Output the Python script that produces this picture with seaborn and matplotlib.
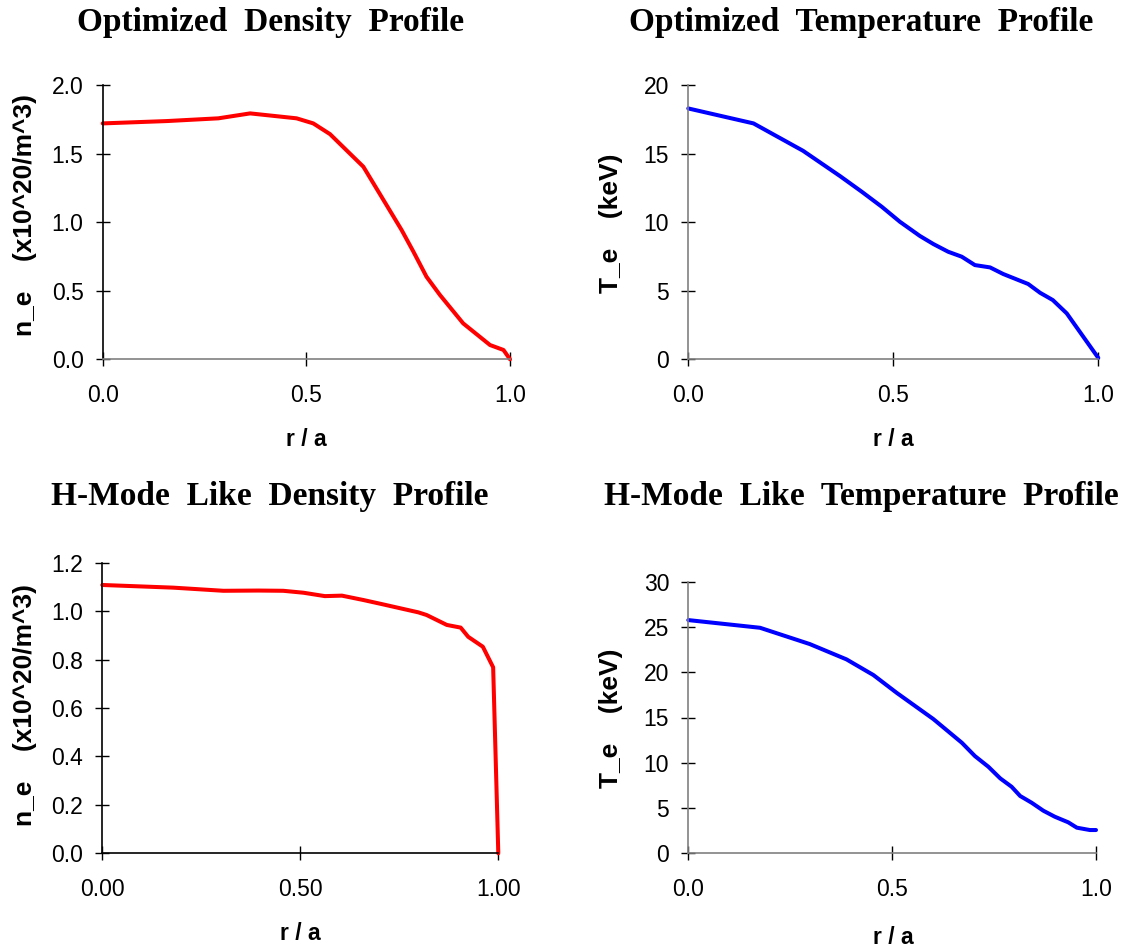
import matplotlib
matplotlib.use("Agg")
import matplotlib.pyplot as plt
import seaborn as sns
import pandas as pd
from matplotlib.ticker import FormatStrFormatter

sns.set_style("ticks")
plt.rcParams['font.family'] = ['Liberation Sans', 'DejaVu Sans']
plt.rcParams['text.color'] = 'black'

# Optimized density profile
r_opt_n = [0.0, 0.157, 0.284, 0.362, 0.476, 0.517, 0.558, 0.640, 0.734, 0.763, 0.795,
           0.828, 0.885, 0.951, 0.984, 1.0]
n_opt = [1.72, 1.737, 1.757, 1.793, 1.757, 1.72, 1.642, 1.404, 0.942, 0.784, 0.602,
         0.469, 0.262, 0.104, 0.068, 0.0]

# Optimized temperature profile
r_opt_t = [0.0, 0.159, 0.280, 0.370, 0.423, 0.472, 0.516, 0.565, 0.598, 0.634, 0.667,
           0.699, 0.736, 0.768, 0.829, 0.858, 0.889, 0.923, 1.0]
t_opt = [18.29, 17.2, 15.2, 13.36, 12.22, 11.12, 10.03, 8.99, 8.40, 7.84, 7.48,
         6.87, 6.70, 6.22, 5.49, 4.85, 4.32, 3.35, 0.1]

# H-mode like density profile
r_h_n = [0.0, 0.179, 0.306, 0.394, 0.457, 0.508, 0.562, 0.605, 0.659, 0.706, 0.760,
         0.798, 0.819, 0.870, 0.905, 0.924, 0.961, 0.987, 1.0]
n_h = [1.108, 1.097, 1.084, 1.085, 1.084, 1.076, 1.062, 1.064, 1.046, 1.029, 1.009,
       0.995, 0.984, 0.943, 0.932, 0.894, 0.853, 0.768, 0.0]

# H-mode like temperature profile
r_h_t = [0.0, 0.176, 0.298, 0.388, 0.454, 0.511, 0.601, 0.671, 0.703, 0.736, 0.765,
         0.793, 0.814, 0.842, 0.871, 0.899, 0.932, 0.953, 0.985, 1.0]
t_h = [25.76, 24.91, 23.11, 21.42, 19.69, 17.73, 14.83, 12.21, 10.74, 9.56, 8.28,
       7.35, 6.33, 5.59, 4.70, 4.04, 3.42, 2.83, 2.57, 2.57]

titles = ["Optimized  Density  Profile", "Optimized  Temperature  Profile",
          "H-Mode  Like  Density  Profile", "H-Mode  Like  Temperature  Profile"]
ylabels = ["n_e    (x10^20/m^3)", "T_e    (keV)", "n_e    (x10^20/m^3)", "T_e    (keV)"]
xlabel = "r / a"

W, H = 1123, 948
fig = plt.figure(figsize=(W / 100, H / 100), dpi=100)

def rect(x0, x1, y0, y1):
    return [x0 / W, 1 - y1 / H, (x1 - x0) / W, (y1 - y0) / H]

axes = [
    fig.add_axes(rect(102.7, 510, 85, 359.3)),
    fig.add_axes(rect(688.3, 1098.3, 85, 359.3)),
    fig.add_axes(rect(102.3, 498.3, 562.7, 853.3)),
    fig.add_axes(rect(688.3, 1096, 581.7, 853.3)),
]

datasets = [(r_opt_n, n_opt, "#ff0000"), (r_opt_t, t_opt, "#0000ff"),
            (r_h_n, n_h, "#ff0000"), (r_h_t, t_h, "#0000ff")]
ylims = [(0, 2.0, 0.5, "%.1f"), (0, 20, 5, "%d"), (0, 1.2, 0.2, "%.1f"), (0, 30, 5, "%d")]
xfmts = ["%.1f", "%.1f", "%.2f", "%.1f"]
spine_cols = [("black", "#808080"), ("#808080", "#808080"), ("black", "black"), ("#808080", "#808080")]

for i, ax in enumerate(axes):
    x, y, c = datasets[i]
    df = pd.DataFrame({"r": x, "v": y})
    sns.lineplot(data=df, x="r", y="v", ax=ax, color=c, linewidth=2.9, sort=False,
                 estimator=None, clip_on=False)
    lo, hi, step, fmt = ylims[i]
    ax.set_ylim(lo, hi)
    ax.set_xlim(0, 1)
    n = int(round((hi - lo) / step))
    ax.set_yticks([lo + k * step for k in range(n + 1)])
    ax.set_xticks([0, 0.5, 1.0])
    ax.yaxis.set_major_formatter(FormatStrFormatter(fmt))
    ax.xaxis.set_major_formatter(FormatStrFormatter(xfmts[i]))
    ax.tick_params(axis='both', direction='inout', length=9.5, width=1, labelsize=16.5,
                   colors='black')
    ax.tick_params(axis='y', pad=9)
    ax.tick_params(axis='x', pad=13)
    for s in ['top', 'right']:
        ax.spines[s].set_visible(False)
    ax.spines['left'].set_color(spine_cols[i][0])
    ax.spines['bottom'].set_color(spine_cols[i][1])
    ax.spines['left'].set_linewidth(1.2)
    ax.spines['bottom'].set_linewidth(1.2)
    ax.set_xlabel("")
    ax.set_ylabel("")

# Titles
title_pos = [(271, 22), (861, 22), (270, 497), (861, 497)]
for (tx, ty), t in zip(title_pos, titles):
    fig.text(tx / W, 1 - ty / H, t, ha='center', va='center', fontsize=24,
             fontweight='bold', color='black', family=['Liberation Serif', 'DejaVu Serif'])

# Y labels
ylab_pos = [(25, 215), (611, 223), (25, 705), (611, 718)]
for (tx, ty), t in zip(ylab_pos, ylabels):
    fig.text(tx / W, 1 - ty / H, t, ha='center', va='center', rotation=90,
             fontsize=19, fontweight='bold', color='black')

# X labels
xlab_pos = [(306, 440), (893, 440), (300, 933), (893, 938)]
for (tx, ty) in xlab_pos:
    fig.text(tx / W, 1 - ty / H, xlabel, ha='center', va='center', fontsize=16.5,
             fontweight='bold', color='black')

fig.savefig("out.png", dpi=100)
